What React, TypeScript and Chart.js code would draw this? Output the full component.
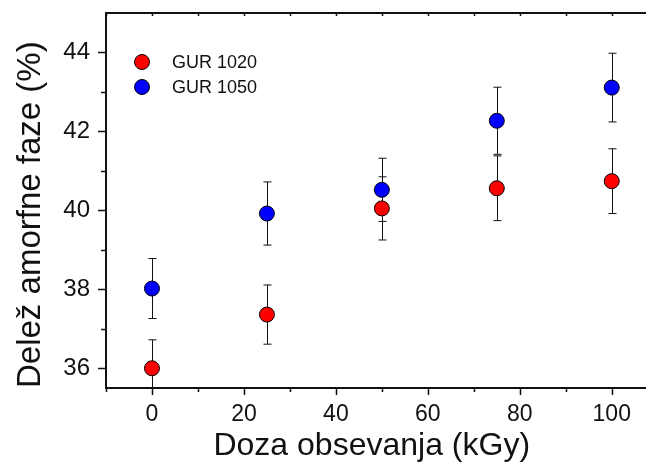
import React, { useEffect, useRef } from 'react';
import { Chart, registerables } from 'chart.js';

Chart.register(...registerables);

const doses = [0, 25, 50, 75, 100];
const seriesNames = ['GUR 1020', 'GUR 1050'];
const seriesColors = ['#ff0000', '#0000ff'];
const gur1020 = [36.0, 37.36, 40.05, 40.56, 40.74];
const gur1020Err = [0.72, 0.75, 0.8, 0.82, 0.82];
const gur1050 = [38.02, 39.92, 40.52, 42.27, 43.11];
const gur1050Err = [0.76, 0.8, 0.8, 0.85, 0.87];
const xTicks = [-10, 0, 10, 20, 30, 40, 50, 60, 70, 80, 90, 100];
const xMajor = [0, 20, 40, 60, 80, 100];
const yTicks = [36, 37, 38, 39, 40, 41, 42, 43, 44];
const yMajor = [36, 38, 40, 42, 44];
const xTitle = 'Doza obsevanja (kGy)';
const yTitle = 'Delež amorfne faze (%)';

const FONT = "'Liberation Sans', Arial, sans-serif";

const errorBarPlugin = {
  id: 'errorBars',
  beforeDatasetsDraw(chart: any) {
    const { ctx, chartArea, scales } = chart;
    const errs = [gur1020Err, gur1050Err];
    const vals = [gur1020, gur1050];
    ctx.save();
    ctx.beginPath();
    ctx.rect(chartArea.left, chartArea.top, chart.width - chartArea.left, chartArea.bottom - chartArea.top);
    ctx.clip();
    ctx.strokeStyle = '#111';
    ctx.lineWidth = 1;
    for (let s = 0; s < vals.length; s++) {
      for (let i = 0; i < doses.length; i++) {
        const x = Math.round(scales.x.getPixelForValue(doses[i])) + 0.5;
        const yTop = scales.y.getPixelForValue(vals[s][i] + errs[s][i]);
        const yBot = scales.y.getPixelForValue(vals[s][i] - errs[s][i]);
        ctx.beginPath();
        ctx.moveTo(x, yTop);
        ctx.lineTo(x, yBot);
        ctx.moveTo(x - 4, yTop);
        ctx.lineTo(x + 4, yTop);
        ctx.moveTo(x - 4, yBot);
        ctx.lineTo(x + 4, yBot);
        ctx.stroke();
      }
    }
    ctx.restore();
  },
};

const axesPlugin = {
  id: 'axesFrame',
  afterDraw(chart: any) {
    const { ctx, chartArea, scales } = chart;
    const { left, top, bottom } = chartArea;
    const right = chart.width;
    ctx.save();
    ctx.strokeStyle = '#111';
    ctx.lineWidth = 2;
    ctx.beginPath();
    ctx.moveTo(left, top);
    ctx.lineTo(left, bottom);
    ctx.moveTo(left - 1, bottom);
    ctx.lineTo(right, bottom);
    ctx.moveTo(left - 1, top);
    ctx.lineTo(right, top);
    ctx.stroke();
    ctx.lineWidth = 1.5;
    ctx.beginPath();
    for (const v of xTicks) {
      const x = Math.round(scales.x.getPixelForValue(v)) + 0.5;
      const len = xMajor.includes(v) ? 7 : 4;
      ctx.moveTo(x, bottom);
      ctx.lineTo(x, bottom + len);
      ctx.moveTo(x, top);
      ctx.lineTo(x, top + 3);
    }
    for (const v of yTicks) {
      const y = Math.round(scales.y.getPixelForValue(v)) + 0.5;
      const len = yMajor.includes(v) ? 8 : 5;
      ctx.moveTo(left, y);
      ctx.lineTo(left - len, y);
    }
    ctx.stroke();
    ctx.restore();
  },
};

const legendPlugin = {
  id: 'insideLegend',
  afterDraw(chart: any) {
    const { ctx } = chart;
    ctx.save();
    const rows = [62, 87];
    for (let i = 0; i < seriesNames.length; i++) {
      ctx.beginPath();
      ctx.arc(142, rows[i], 7.5, 0, Math.PI * 2);
      ctx.fillStyle = seriesColors[i];
      ctx.fill();
      ctx.strokeStyle = '#000';
      ctx.lineWidth = 1;
      ctx.stroke();
      ctx.fillStyle = '#111';
      ctx.font = `18px ${FONT}`;
      ctx.textBaseline = 'middle';
      ctx.textAlign = 'left';
      ctx.fillText(seriesNames[i], 172, rows[i] + 1);
    }
    ctx.restore();
  },
};

export default function App() {
  const ref = useRef<HTMLCanvasElement>(null);
  useEffect(() => {
    if (!ref.current) return;
    const chart = new Chart(ref.current, {
      type: 'scatter',
      data: {
        datasets: [
          {
            label: seriesNames[0],
            data: doses.map((d, i) => ({ x: d, y: gur1020[i] })),
            backgroundColor: seriesColors[0],
            borderColor: '#000',
            borderWidth: 1,
            pointRadius: 7.5,
            pointHoverRadius: 7.5,
          },
          {
            label: seriesNames[1],
            data: doses.map((d, i) => ({ x: d, y: gur1050[i] })),
            backgroundColor: seriesColors[1],
            borderColor: '#000',
            borderWidth: 1,
            pointRadius: 7.5,
            pointHoverRadius: 7.5,
          },
        ],
      },
      options: {
        responsive: false,
        animation: false,
        events: [],
        layout: { padding: { top: 13, right: 0, left: 0, bottom: 0 } },
        plugins: {
          legend: { display: false },
          tooltip: { enabled: false },
        },
        scales: {
          x: {
            type: 'linear',
            min: -10,
            max: 105.6,
            afterBuildTicks: (s: any) => {
              s.ticks = xTicks.map((v) => ({ value: v }));
            },
            afterFit: (s: any) => {
              s.height = 74;
              s.paddingLeft = 0;
              s.paddingRight = 0;
            },
            grid: { display: false, drawTicks: false },
            border: { display: false },
            ticks: {
              autoSkip: false,
              maxRotation: 0,
              padding: 13,
              color: '#111',
              font: { family: FONT, size: 23 },
              callback: (v: any) => (xMajor.includes(Number(v)) ? String(v) : ''),
            },
            title: {
              display: true,
              text: xTitle,
              color: '#111',
              font: { family: FONT, size: 32, lineHeight: 1 },
              padding: { top: 0, bottom: 0 },
            },
          },
          y: {
            type: 'linear',
            min: 35.5,
            max: 45,
            afterBuildTicks: (s: any) => {
              s.ticks = yTicks.map((v) => ({ value: v }));
            },
            afterFit: (s: any) => {
              s.width = 106;
              s.paddingTop = 0;
              s.paddingBottom = 0;
            },
            grid: { display: false, drawTicks: false },
            border: { display: false },
            ticks: {
              autoSkip: false,
              padding: 16,
              color: '#111',
              font: { family: FONT, size: 24 },
              callback: (v: any) => (yMajor.includes(Number(v)) ? String(v) : ''),
            },
            title: {
              display: true,
              text: yTitle,
              align: 'start',
              color: '#111',
              font: { family: FONT, size: 33, lineHeight: 1 },
              padding: { top: 14, bottom: 0 },
            },
          },
        },
      },
      plugins: [errorBarPlugin, axesPlugin, legendPlugin],
    });
    return () => chart.destroy();
  }, []);
  return (
    <div style={{ position: 'absolute', left: 0, top: 0, width: 646, height: 462, background: '#fff' }}>
      <canvas ref={ref} width={646} height={462} style={{ display: 'block' }} />
    </div>
  );
}
